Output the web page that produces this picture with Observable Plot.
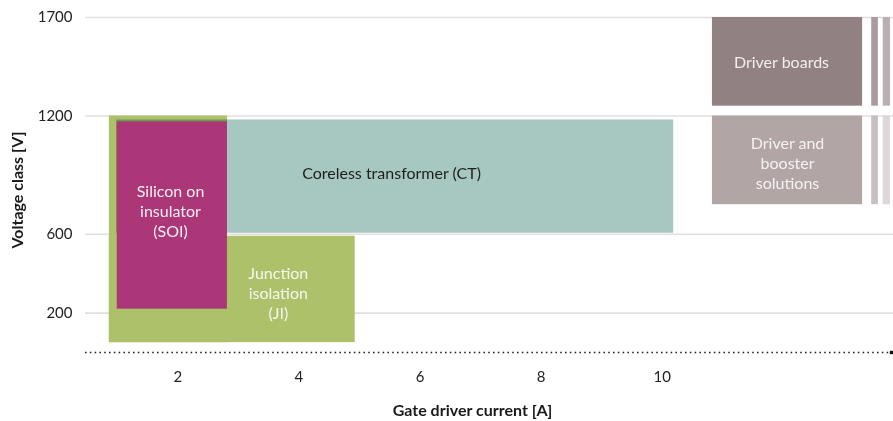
<!DOCTYPE html>
<html>
<head>
<meta charset="utf-8">
<script src="https://cdn.jsdelivr.net/npm/d3@7"></script>
<script src="https://cdn.jsdelivr.net/npm/@observablehq/plot@0.6"></script>
<style>
  html, body { margin: 0; padding: 0; background: #fff; }
  #chart { width: 893px; height: 421px; overflow: hidden; }
</style>
</head>
<body>
<div id="chart"></div>
<script>
// ---- data ----
const blockNames   = ["JI upper", "JI lower", "CT", "SOI", "Driver boards", "Boards stripe 1", "Boards stripe 2", "Driver and booster", "Booster stripe 1", "Booster stripe 2"];
const currentFrom  = [0.87, 0.87, 0.99, 1.00, 10.83, 13.46, 13.65, 10.83, 13.46, 13.65];
const currentTo    = [2.82, 4.93, 10.19, 2.82, 13.31, 13.57, 13.77, 13.31, 13.57, 13.77];
const voltageFrom  = [50, 50, 605, 220, 1250, 1250, 1250, 750, 750, 750];
const voltageTo    = [1200, 590, 1180, 1170, 1700, 1700, 1700, 1200, 1200, 1200];
const blockColors  = ["#adc16b", "#adc16b", "#a7c8c0", "#ab3779", "#928183", "#a99c9e", "#bbb0b1", "#b2a5a6", "#c8bfc0", "#ddd7d8"];

const labelText    = ["Silicon on\ninsulator\n(SOI)", "Coreless transformer (CT)", "Junction\nisolation\n(JI)", "Driver boards", "Driver and\nbooster\nsolutions"];
const labelCurrent = [1.88, 5.53, 3.66, 11.97, 12.07];
const labelVoltage = [721, 914, 305, 1477, 964];
const labelColors  = ["#f6eef2", "#1e1e1e", "#f6f8ee", "#f4eeee", "#f6f2f2"];

const xTicks = [2, 4, 6, 8, 10];
const yTicks = [200, 600, 1200, 1700];
const xDomain = [0.476, 13.82];
const yDomain = [0, 1700];
const xLabel = "Gate driver current [A]";
const yLabel = "Voltage class [V]";

// ---- build tables ----
const blocks = blockNames.map((name, i) => ({
  name, x1: currentFrom[i], x2: currentTo[i], y1: voltageFrom[i], y2: voltageTo[i]
}));
const labels = labelText.map((t, i) => ({ t, x: labelCurrent[i], y: labelVoltage[i], c: labelColors[i] }));

const font = "Lato, 'Noto Sans', sans-serif";

const chart = Plot.plot({
  width: 893,
  height: 421,
  marginLeft: 85,
  marginRight: 0,
  marginTop: 17,
  marginBottom: 69,
  style: { fontFamily: font, fontSize: "15px", color: "#222", background: "#fff", overflow: "visible" },
  x: { domain: xDomain },
  y: { domain: yDomain },
  color: { domain: blockNames, range: blockColors },
  marks: [
    Plot.ruleY(yTicks, { stroke: "#e3dfdf", strokeWidth: 1.6 }),
    Plot.rect(blocks.filter(d => d.name.startsWith("JI")), { x1: "x1", x2: "x2", y1: "y1", y2: "y2", fill: "name" }),
    Plot.rect(blocks.filter(d => d.name === "CT"), { x1: "x1", x2: "x2", y1: "y1", y2: "y2", fill: "name", mixBlendMode: "multiply" }),
    Plot.rect(blocks.filter(d => !d.name.startsWith("JI") && d.name !== "CT"), { x1: "x1", x2: "x2", y1: "y1", y2: "y2", fill: "name" }),
    Plot.text(labels, { x: "x", y: "y", text: "t", fill: "c", fontSize: 16, lineHeight: 1.25 }),
    Plot.ruleY([yDomain[0]], { stroke: "#222", strokeWidth: 1.6, strokeDasharray: "1.6 3.2" }),
    Plot.dot([xDomain[1]], { x: d => d, y: yDomain[0], symbol: "square", r: 1.9, fill: "#111", dx: -2 }),
    Plot.axisX({ ticks: xTicks, tickSize: 0, tickPadding: 19, label: null, fontSize: 15, fill: "#222" }),
    Plot.axisY({ ticks: yTicks, tickFormat: d => String(d), tickSize: 0, tickPadding: 13, label: null, fontSize: 15, fill: "#222" }),
    Plot.text([xLabel], { frameAnchor: "bottom", dy: 63, dx: -17, fontWeight: "bold", fontSize: 16, fill: "#1a1a1a" }),
    Plot.text([yLabel], { frameAnchor: "left", textAnchor: "middle", dx: -68, dy: 5, rotate: -90, fontWeight: "bold", fontSize: 16, fill: "#1a1a1a" })
  ]
});
document.getElementById("chart").appendChild(chart);
</script>
</body>
</html>
